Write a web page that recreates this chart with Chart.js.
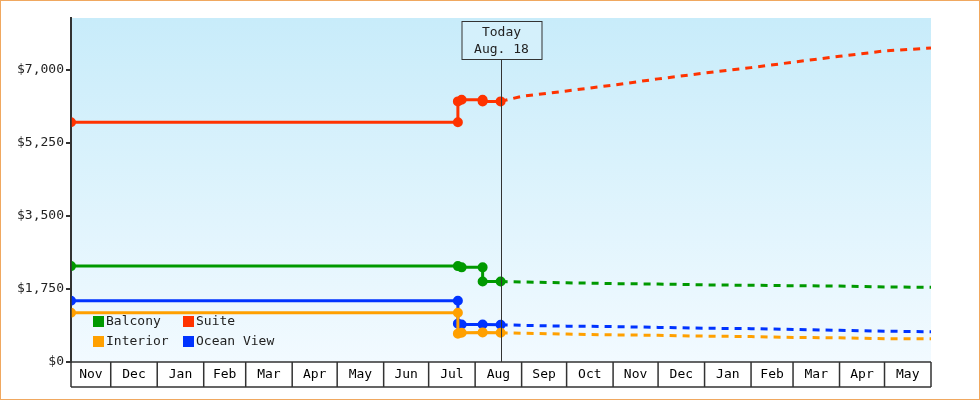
<!DOCTYPE html>
<html>
<head>
<meta charset="utf-8">
<title>Cabin Prices</title>
<script src="https://cdn.jsdelivr.net/npm/chart.js@4/dist/chart.umd.min.js"></script>
<style>
  html, body { margin: 0; padding: 0; background: #fff; }
  #wrap { width: 978px; height: 398px; border: 1px solid #f0a860; }
</style>
</head>
<body>
<div id="wrap"><canvas id="myChart" width="978" height="398"></canvas></div>
<script>
// days counted from Nov 1 of the first year
var monthLabels = ['Nov','Dec','Jan','Feb','Mar','Apr','May','Jun','Jul','Aug','Sep','Oct','Nov','Dec','Jan','Feb','Mar','Apr','May'];
var monthStarts = [0,30,61,92,120,151,181,212,242,273,304,334,365,395,426,457,485,516,546,577];
var todayDay = 290;
var todayText = ['Today', 'Aug. 18'];
var yTicks = [0, 1750, 3500, 5250, 7000];

var histDays = {
  Balcony:      [3.5, 261.5, 264, 278, 278, 290],
  Suite:        [3.5, 261.5, 261.5, 264, 278, 278, 290],
  Interior:     [3.5, 261.5, 261.5, 264, 278, 290],
  'Ocean View': [3.5, 261.5, 261.5, 264, 278, 290]
};
var histVals = {
  Balcony:      [2300, 2300, 2270, 2270, 1930, 1930],
  Suite:        [5750, 5750, 6250, 6290, 6290, 6250, 6250],
  Interior:     [1180, 1180, 680, 700, 710, 700],
  'Ocean View': [1470, 1470, 920, 900, 900, 893]
};

var fcDays = [290, 304, 334, 365, 395, 426, 457, 485, 516, 546, 577];
var fcVals = {
  Balcony:      [1930, 1920, 1900, 1880, 1870, 1850, 1840, 1830, 1820, 1800, 1790],
  Suite:        [6250, 6370, 6500, 6640, 6790, 6930, 7060, 7190, 7330, 7460, 7530],
  Interior:     [700, 690, 670, 650, 640, 620, 610, 590, 580, 560, 555],
  'Ocean View': [893, 880, 860, 850, 830, 810, 800, 780, 760, 740, 724]
};
var seriesNames = ['Balcony', 'Suite', 'Interior', 'Ocean View'];
var seriesColors = ['#009900', '#ff3300', '#ffa000', '#0033ff'];

var FONT = '"DejaVu Sans Mono", monospace';

function pts(d, v) {
  var out = [];
  for (var i = 0; i < d.length && i < v.length; i++) out.push({ x: d[i], y: v[i] });
  return out;
}

var datasets = [];
seriesNames.forEach(function(n, i) {
  datasets.push({
    label: n, data: pts(histDays[n], histVals[n]),
    borderColor: seriesColors[i], backgroundColor: seriesColors[i],
    borderWidth: 3, pointRadius: 3.5, pointHoverRadius: 3.5, order: 2
  });
});
seriesNames.forEach(function(n, i) {
  datasets.push({
    label: n + ' forecast', data: pts(fcDays, fcVals[n]),
    borderColor: seriesColors[i], borderWidth: 3, borderDash: [7, 6],
    pointRadius: 0, order: 2
  });
});

var bgPlugin = {
  id: 'bg',
  beforeDraw: function(chart) {
    var a = chart.chartArea, ctx = chart.ctx;
    var g = ctx.createLinearGradient(0, a.top, 0, a.bottom);
    g.addColorStop(0, '#c8ecfa');
    g.addColorStop(1, '#f2faff');
    ctx.save();
    ctx.fillStyle = g;
    ctx.fillRect(a.left, a.top, a.right - a.left, a.bottom - a.top);
    ctx.restore();
  }
};

var extras = {
  id: 'extras',
  afterDraw: function(chart) {
    var ctx = chart.ctx, a = chart.chartArea, xs = chart.scales.x;
    ctx.save();
    // month boxes
    ctx.strokeStyle = '#333'; ctx.lineWidth = 1.5;
    ctx.font = '13px ' + FONT; ctx.fillStyle = '#000';
    ctx.textAlign = 'center'; ctx.textBaseline = 'middle';
    var boxBottom = a.bottom + 25;
    ctx.beginPath();
    ctx.moveTo(a.left, a.bottom); ctx.lineTo(a.right, a.bottom);
    ctx.moveTo(a.left, boxBottom); ctx.lineTo(a.right, boxBottom);
    ctx.moveTo(a.left, a.top); ctx.lineTo(a.left, boxBottom);
    for (var i = 1; i < monthStarts.length; i++) {
      var px = Math.min(xs.getPixelForValue(monthStarts[i]), a.right);
      ctx.moveTo(px, a.bottom); ctx.lineTo(px, boxBottom);
    }
    ctx.stroke();
    for (var j = 0; j < monthLabels.length; j++) {
      var l = Math.max(xs.getPixelForValue(monthStarts[j]), a.left);
      var r = Math.min(xs.getPixelForValue(monthStarts[j + 1]), a.right);
      ctx.fillText(monthLabels[j], (l + r) / 2, a.bottom + 13);
    }
    // today marker
    var tx = Math.round(xs.getPixelForValue(todayDay)) + 0.5;
    ctx.lineWidth = 1; ctx.strokeStyle = '#333';
    ctx.beginPath(); ctx.moveTo(tx, 58); ctx.lineTo(tx, a.bottom); ctx.stroke();
    ctx.fillStyle = '#d4f0fb';
    ctx.fillRect(tx - 40, 20, 80, 38);
    ctx.strokeRect(tx - 40 + 0.5, 20.5, 80, 38);
    ctx.fillStyle = '#222';
    ctx.fillText(todayText[0], tx, 32);
    ctx.fillText(todayText[1], tx, 49);
    // legend inside plot
    ctx.textAlign = 'left';
    for (var k = 0; k < 4; k++) {
      var lx = a.left + 22 + (k % 2) * 90;
      var ly = a.bottom - 40 + Math.floor(k / 2) * 20;
      ctx.fillStyle = chart.data.datasets[k].borderColor;
      ctx.fillRect(lx, ly - 6, 11, 11);
      ctx.fillStyle = '#222';
      ctx.fillText(chart.data.datasets[k].label, lx + 13, ly);
    }
    ctx.restore();
  }
};

var ctx = document.getElementById('myChart').getContext('2d');
var myChart = new Chart(ctx, {
  type: 'line',
  data: { datasets: datasets },
  options: {
    responsive: false, animation: false,
    layout: { padding: { left: 0, right: 48, top: 17, bottom: 12 } },
    plugins: { legend: { display: false }, tooltip: { enabled: false } },
    scales: {
      x: {
        type: 'linear', min: 3.5, max: 577,
        grid: { display: false }, border: { display: false },
        ticks: { display: false },
        afterFit: function(s) { s.height = 25; }
      },
      y: {
        min: 0, max: 8250,
        afterBuildTicks: function(s) { s.ticks = yTicks.map(function(v) { return { value: v }; }); },
        afterFit: function(s) { s.width = 70; },
        grid: { display: true, drawOnChartArea: false, drawTicks: true, tickLength: 5, color: '#333', lineWidth: 2 },
        border: { display: true, color: '#333', width: 2 },
        ticks: {
          color: '#222', font: { family: FONT, size: 13 }, padding: 2,
          callback: function(v) { return '$' + v.toLocaleString('en-US'); }
        }
      }
    }
  },
  plugins: [bgPlugin, extras]
});
</script>
</body>
</html>
